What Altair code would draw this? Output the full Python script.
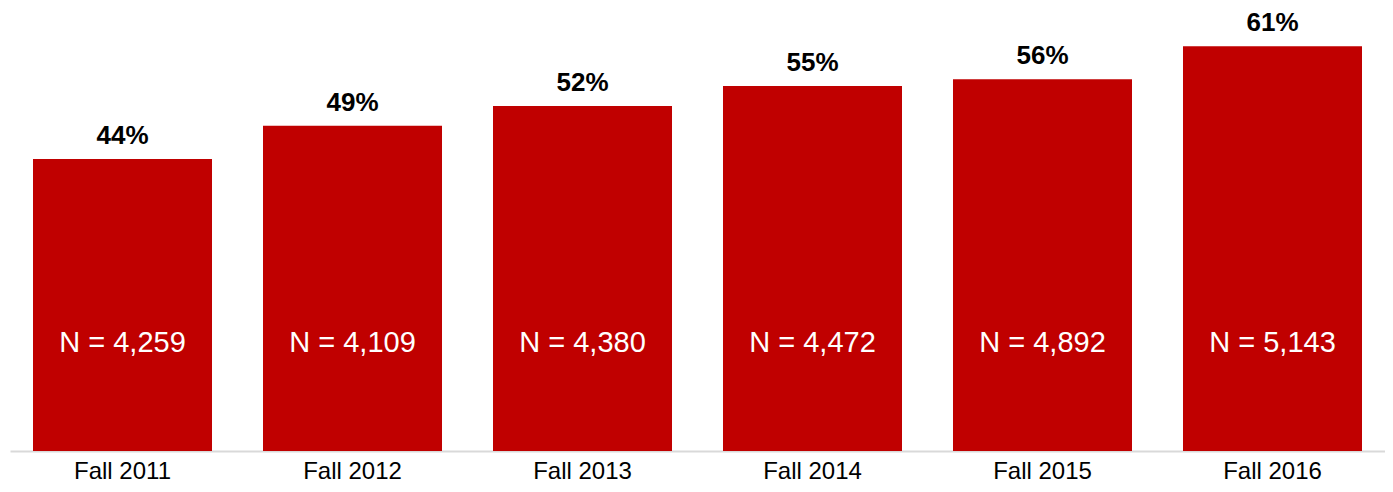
import altair as alt
import pandas as pd

terms = ["Fall 2011", "Fall 2012", "Fall 2013", "Fall 2014", "Fall 2015", "Fall 2016"]
rates = [44, 49, 52, 55, 56, 61]
counts = ["4,259", "4,109", "4,380", "4,472", "4,892", "5,143"]

df = pd.DataFrame({
    "term": terms,
    "rate": rates,
    "pct": [f"{r}%" for r in rates],
    "n": [f"N = {c}" for c in counts],
})

FONT = "Liberation Sans"
x = alt.X("term:N", sort=terms, title=None,
          scale=alt.Scale(paddingInner=0.2217, paddingOuter=0.1),
          axis=alt.Axis(labelAngle=0, labelFont=FONT, labelFontSize=24, labelColor="#000000",
                        labelBaseline="alphabetic", labelPadding=27, ticks=False,
                        domainColor="#d9d9d9", domainWidth=2, grid=False))
y = alt.Y("rate:Q", title=None, scale=alt.Scale(domain=[0, 66.15], nice=False, zero=True),
          axis=None)

bars = alt.Chart(df).mark_bar(color="#C00000").encode(x=x, y=y)
pct = alt.Chart(df).mark_text(font=FONT, fontSize=26, fontWeight="bold", color="#000000",
                              baseline="bottom", dy=-10).encode(x=x, y=y, text="pct:N")
nlab = alt.Chart(df).mark_text(font=FONT, fontSize=29, color="#ffffff",
                               baseline="middle").encode(x=x, y=alt.datum(16.2), text="n:N")

chart = (bars + pct + nlab).properties(
    width=1375, height=439, background="#ffffff",
    autosize=alt.AutoSizeParams(type="none"),
    padding={"left": 2, "top": 4, "right": 0, "bottom": 33}
).configure_view(strokeWidth=0, stroke=None)

chart.save("out.html", embed_options={"renderer": "svg", "actions": False})
